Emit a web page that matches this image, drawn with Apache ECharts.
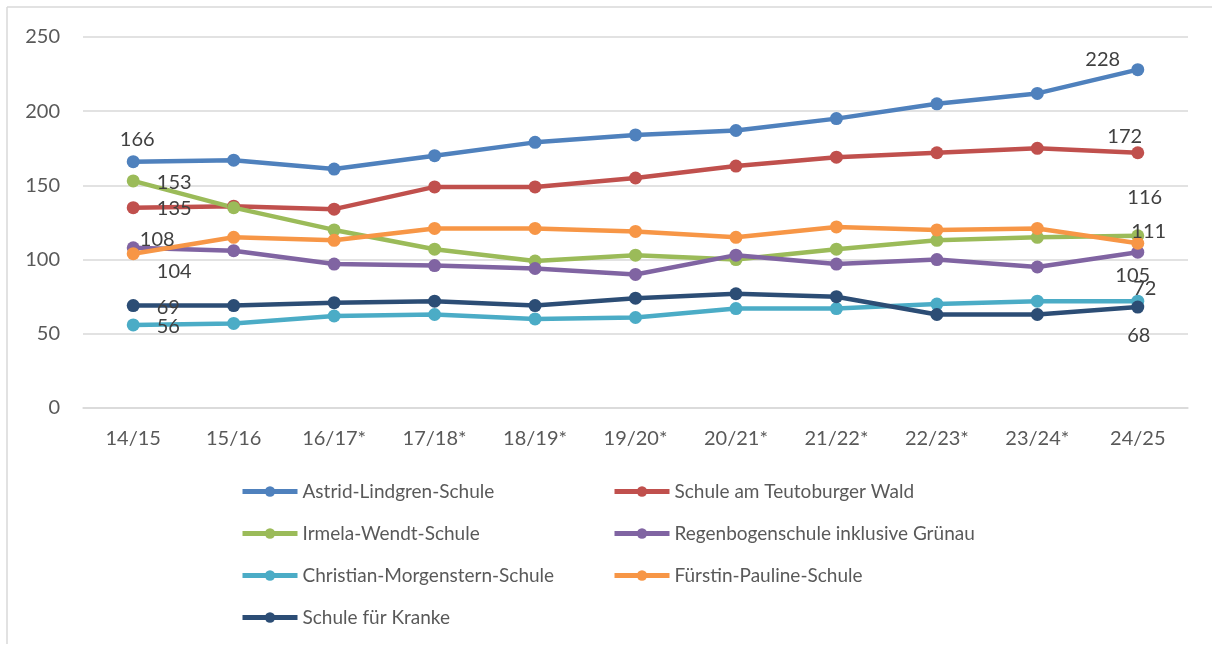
<!DOCTYPE html>
<html>
<head>
<meta charset="utf-8">
<script src="https://cdn.jsdelivr.net/npm/echarts@6/dist/echarts.min.js"></script>
<style>
  html, body { margin: 0; padding: 0; background: #fff; }
  #chart { width: 1212px; height: 645px; }
</style>
</head>
<body>
<div id="chart"></div>
<script>
// Schuljahre
const categories = ['14/15', '15/16', '16/17*', '17/18*', '18/19*', '19/20*', '20/21*', '21/22*', '22/23*', '23/24*', '24/25']
const yTicks = [0, 50, 100, 150, 200, 250]

// Schülerzahlen je Schule
const astrid = [166, 167, 161, 170, 179, 184, 187, 195, 205, 212, 228]
const teutoburger = [135, 136, 134, 149, 149, 155, 163, 169, 172, 175, 172]
const irmela = [153, 135, 120, 107, 99, 103, 100, 107, 113, 115, 116]
const regenbogen = [108, 106, 97, 96, 94, 90, 103, 97, 100, 95, 105]
const morgenstern = [56, 57, 62, 63, 60, 61, 67, 67, 70, 72, 72]
const pauline = [104, 115, 113, 121, 121, 119, 115, 122, 120, 121, 111]
const kranke = [69, 69, 71, 72, 69, 74, 77, 75, 63, 63, 68]

const names = [
  'Astrid-Lindgren-Schule',
  'Schule am Teutoburger Wald',
  'Irmela-Wendt-Schule',
  'Regenbogenschule inklusive Grünau',
  'Christian-Morgenstern-Schule',
  'Fürstin-Pauline-Schule',
  'Schule für Kranke'
]
const values = [astrid, teutoburger, irmela, regenbogen, morgenstern, pauline, kranke]
const colors = ['#4F81BD', '#C0504D', '#9BBB59', '#8064A2', '#4BACC6', '#F79646', '#2C4D75']

// Lage der Beschriftung (Mitte des Textes relativ zum Punkt) für ersten / letzten Wert
const labelOffsets = [
  [[4, -22], [-35, -10]],
  [[41, 1], [-13, -16]],
  [[41, 2], [7, -38]],
  [[24, -8], [-5, 23]],
  [[35, 2], [7, -13]],
  [[41, 18], [11, -12]],
  [[35, 2], [1, 28]]
]

const FONT = 'Lato, "Liberation Sans", sans-serif'
const SYMBOL = 13

function at (dx, dy) {
  return {
    show: true,
    position: [SYMBOL / 2 + dx, SYMBOL / 2 + dy],
    align: 'center',
    verticalAlign: 'middle',
    color: '#404040',
    fontSize: 20,
    fontFamily: FONT
  }
}

const series = names.map((name, s) => {
  const vals = values[s]
  const last = vals.length - 1
  return {
    name: name,
    type: 'line',
    symbol: 'circle',
    symbolSize: SYMBOL,
    color: colors[s],
    lineStyle: { width: 4.5, color: colors[s] },
    itemStyle: { color: colors[s] },
    emphasis: { disabled: true },
    data: vals.map((v, i) => {
      if (i === 0) return { value: v, label: at(labelOffsets[s][0][0], labelOffsets[s][0][1]) }
      if (i === last) return { value: v, label: at(labelOffsets[s][1][0], labelOffsets[s][1][1]) }
      return v
    })
  }
})

const legendBase = {
  orient: 'vertical',
  padding: 0,
  itemWidth: 55,
  itemHeight: 13,
  itemGap: 23,
  lineStyle: { width: 5 },
  textStyle: { color: '#595959', fontSize: 19, fontFamily: FONT, padding: [0, 0, 0, 0] }
}

const myChart = echarts.init(document.getElementById('chart'))
myChart.setOption({
  animation: false,
  backgroundColor: '#fff',
  grid: { left: 83, right: 24, top: 37, bottom: 237 },
  graphic: [
    { type: 'line', shape: { x1: 7, y1: 7, x2: 1212, y2: 7 }, style: { stroke: '#d9d9d9', lineWidth: 1.5 } },
    { type: 'line', shape: { x1: 7, y1: 7, x2: 7, y2: 644 }, style: { stroke: '#d9d9d9', lineWidth: 1.5 } }
  ],
  legend: [
    Object.assign({}, legendBase, { left: 240, top: 482, data: [names[0], names[2], names[4], names[6]] }),
    Object.assign({}, legendBase, { left: 612, top: 482, data: [names[1], names[3], names[5]] })
  ],
  xAxis: {
    type: 'category',
    data: categories,
    boundaryGap: true,
    axisTick: { show: false },
    axisLine: { lineStyle: { color: '#d9d9d9', width: 1.5 } },
    axisLabel: { color: '#595959', fontSize: 20, fontFamily: FONT, margin: 21, interval: 0 }
  },
  yAxis: {
    type: 'value',
    min: yTicks[0],
    max: yTicks[yTicks.length - 1],
    interval: yTicks[1] - yTicks[0],
    axisLine: { show: false },
    axisTick: { show: false },
    splitLine: { lineStyle: { color: '#d9d9d9', width: 1.5 } },
    axisLabel: { color: '#595959', fontSize: 20, fontFamily: FONT, margin: 23 }
  },
  series: series
})
</script>
</body>
</html>
